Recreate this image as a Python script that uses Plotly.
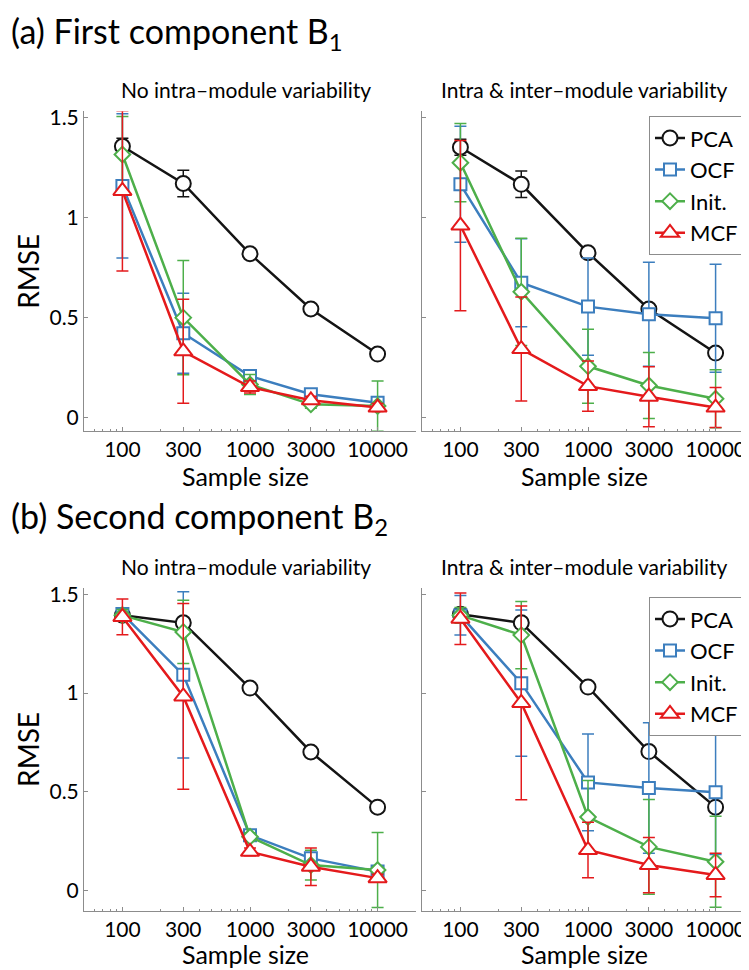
import plotly.graph_objects as go

# sample sizes (x axis, log scale)
sample_size = [100, 300, 1000, 3000, 10000]
tick_text = ['100', '300', '1000', '3000', '10000']
methods = ['PCA', 'OCF', 'Init.', 'MCF']

# (a) first component B1, no intra-module variability
b1_no_pca = [1.355, 1.169, 0.818, 0.542, 0.317]
b1_no_pca_err = [0.04, 0.066, 0.01, 0.01, 0.01]
b1_no_ocf = [1.157, 0.421, 0.207, 0.116, 0.074]
b1_no_ocf_err = [0.36, 0.2, 0.03, 0.02, 0.02]
b1_no_init = [1.314, 0.499, 0.165, 0.066, 0.058]
b1_no_init_err = [0.19, 0.285, 0.05, 0.02, 0.124]
b1_no_mcf = [1.132, 0.331, 0.152, 0.086, 0.05]
b1_no_mcf_err = [0.40, 0.26, 0.03, 0.02, 0.02]

# (a) first component B1, intra & inter-module variability
b1_in_pca = [1.350, 1.165, 0.823, 0.542, 0.322]
b1_in_pca_err = [0.04, 0.066, 0.01, 0.01, 0.01]
b1_in_ocf = [1.165, 0.673, 0.554, 0.516, 0.496]
b1_in_ocf_err = [0.29, 0.22, 0.243, 0.26, 0.27]
b1_in_init = [1.273, 0.628, 0.256, 0.160, 0.094]
b1_in_init_err = [0.195, 0.268, 0.185, 0.165, 0.145]
b1_in_mcf = [0.959, 0.342, 0.157, 0.104, 0.05]
b1_in_mcf_err = [0.425, 0.26, 0.125, 0.15, 0.1]

# (b) second component B2, no intra-module variability
b2_no_pca = [1.393, 1.355, 1.025, 0.702, 0.423]
b2_no_pca_err = [0.01, 0.01, 0.01, 0.01, 0.01]
b2_no_ocf = [1.40, 1.092, 0.281, 0.164, 0.097]
b2_no_ocf_err = [0.03, 0.42, 0.02, 0.02, 0.02]
b2_no_init = [1.393, 1.309, 0.273, 0.13, 0.105]
b2_no_init_err = [0.03, 0.16, 0.02, 0.075, 0.19]
b2_no_mcf = [1.385, 0.983, 0.197, 0.122, 0.064]
b2_no_mcf_err = [0.09, 0.47, 0.02, 0.095, 0.02]

# (b) second component B2, intra & inter-module variability
b2_in_pca = [1.398, 1.355, 1.03, 0.704, 0.423]
b2_in_pca_err = [0.01, 0.01, 0.01, 0.01, 0.01]
b2_in_ocf = [1.393, 1.05, 0.548, 0.52, 0.498]
b2_in_ocf_err = [0.1, 0.37, 0.245, 0.33, 0.315]
b2_in_init = [1.393, 1.293, 0.373, 0.222, 0.147]
b2_in_init_err = [0.04, 0.17, 0.185, 0.24, 0.23]
b2_in_mcf = [1.376, 0.95, 0.206, 0.13, 0.08]
b2_in_mcf_err = [0.13, 0.49, 0.14, 0.14, 0.11]

colors = ['rgb(20,20,20)', 'rgb(60,126,190)', 'rgb(77,175,74)', 'rgb(228,26,28)']
symbols = ['circle', 'square', 'diamond', 'triangle-up']
sizes = [15, 12, 12, 16]

font_name = 'Lato'
axis_grey = 'rgb(140,140,140)'

panels = [
    ('x', 'y', [(b1_no_pca, b1_no_pca_err), (b1_no_ocf, b1_no_ocf_err),
                (b1_no_init, b1_no_init_err), (b1_no_mcf, b1_no_mcf_err)], None),
    ('x2', 'y2', [(b1_in_pca, b1_in_pca_err), (b1_in_ocf, b1_in_ocf_err),
                  (b1_in_init, b1_in_init_err), (b1_in_mcf, b1_in_mcf_err)], 'legend'),
    ('x3', 'y3', [(b2_no_pca, b2_no_pca_err), (b2_no_ocf, b2_no_ocf_err),
                  (b2_no_init, b2_no_init_err), (b2_no_mcf, b2_no_mcf_err)], None),
    ('x4', 'y4', [(b2_in_pca, b2_in_pca_err), (b2_in_ocf, b2_in_ocf_err),
                  (b2_in_init, b2_in_init_err), (b2_in_mcf, b2_in_mcf_err)], 'legend2'),
]

fig = go.Figure()

for xa, ya, series, leg in panels:
    for i, (vals, err) in enumerate(series):
        fig.add_trace(go.Scatter(
            x=sample_size, y=vals,
            mode='lines+markers',
            name=methods[i],
            xaxis=xa, yaxis=ya,
            showlegend=leg is not None,
            legend=leg if leg else 'legend',
            line=dict(color=colors[i], width=2.5),
            marker=dict(symbol=symbols[i], size=sizes[i], color='white',
                        line=dict(color=colors[i], width=2)),
            error_y=dict(type='data', array=err, color=colors[i],
                         thickness=1.5, width=6),
        ))

W, H = 749, 970


def px_x(p):
    return p / W


def px_y(p):
    return 1 - p / H


minor_vals = [60, 70, 80, 90, 200, 400, 500, 600, 700, 800, 900,
              2000, 4000, 5000, 6000, 7000, 8000, 9000, 20000]

xaxis_common = dict(
    type='log', range=[1.699, 4.301],
    tickmode='array', tickvals=sample_size, ticktext=tick_text,
    ticks='inside', ticklen=4, tickcolor=axis_grey,
    showline=True, linecolor=axis_grey, linewidth=1,
    showgrid=False, zeroline=False,
    tickfont=dict(family=font_name, size=21, color='black'),
    minor=dict(tickmode='array', tickvals=minor_vals, ticks='inside',
               ticklen=2, tickcolor=axis_grey, showgrid=False),
)
yaxis_common = dict(
    tickmode='array', tickvals=[0, 0.5, 1, 1.5], ticktext=['0', '0.5', '1', '1.5'],
    ticks='inside', ticklen=4, tickcolor=axis_grey,
    showline=True, linecolor=axis_grey, linewidth=1,
    showgrid=False, zeroline=False,
    tickfont=dict(family=font_name, size=21, color='black'),
)

left_dom = [px_x(76), px_x(408)]
right_dom = [px_x(414), px_x(746)]
top_dom = [px_y(418), px_y(96)]
bot_dom = [px_y(902), px_y(577)]
top_range = [-0.065, 1.53]
bot_range = [-0.1, 1.53]

legend_style = dict(xanchor='right', yanchor='top',
                    bgcolor='white', bordercolor=axis_grey, borderwidth=1,
                    font=dict(family=font_name, size=22), tracegroupgap=0,
                    itemwidth=30)

fig.update_layout(
    width=W, height=H,
    margin=dict(l=0, r=0, t=0, b=0),
    paper_bgcolor='white', plot_bgcolor='white',
    font=dict(family=font_name, size=20, color='black'),
    xaxis=dict(xaxis_common, domain=left_dom, anchor='y'),
    yaxis=dict(yaxis_common, domain=top_dom, anchor='x', range=top_range),
    xaxis2=dict(xaxis_common, domain=right_dom, anchor='y2'),
    yaxis2=dict(yaxis_common, domain=top_dom, anchor='x2', range=top_range,
                showticklabels=False),
    xaxis3=dict(xaxis_common, domain=left_dom, anchor='y3'),
    yaxis3=dict(yaxis_common, domain=bot_dom, anchor='x3', range=bot_range),
    xaxis4=dict(xaxis_common, domain=right_dom, anchor='y4'),
    yaxis4=dict(yaxis_common, domain=bot_dom, anchor='x4', range=bot_range,
                showticklabels=False),
    legend=dict(legend_style, x=px_x(736), y=px_y(101)),
    legend2=dict(legend_style, x=px_x(736), y=px_y(586)),
)

annots = [
    ('(a) First component B<sub>1</sub>', 1, -8, 'left', 'top', 34, 0),
    ('(b) Second component B<sub>2</sub>', 1, 481, 'left', 'top', 34, 0),
    ('No intra\u2013module variability', 238, 74, 'center', 'middle', 21, 0),
    ('Intra & inter\u2013module variability', 576, 74, 'center', 'middle', 21, 0),
    ('No intra\u2013module variability', 238, 555, 'center', 'middle', 21, 0),
    ('Intra & inter\u2013module variability', 576, 555, 'center', 'middle', 21, 0),
    ('Sample size', 238, 464, 'center', 'middle', 25, 0),
    ('Sample size', 576, 464, 'center', 'middle', 25, 0),
    ('Sample size', 238, 946, 'center', 'middle', 25, 0),
    ('Sample size', 576, 946, 'center', 'middle', 25, 0),
    ('RMSE', 20, 258, 'center', 'middle', 28, -90),
    ('RMSE', 20, 740, 'center', 'middle', 28, -90),
]
for text, xp, yp, xanc, yanc, size, ang in annots:
    fig.add_annotation(text=text, x=px_x(xp), y=px_y(yp), xref='paper', yref='paper',
                       xanchor=xanc, yanchor=yanc, showarrow=False, textangle=ang,
                       font=dict(family=font_name, size=size, color='black'))

fig.write_html('out.html')
